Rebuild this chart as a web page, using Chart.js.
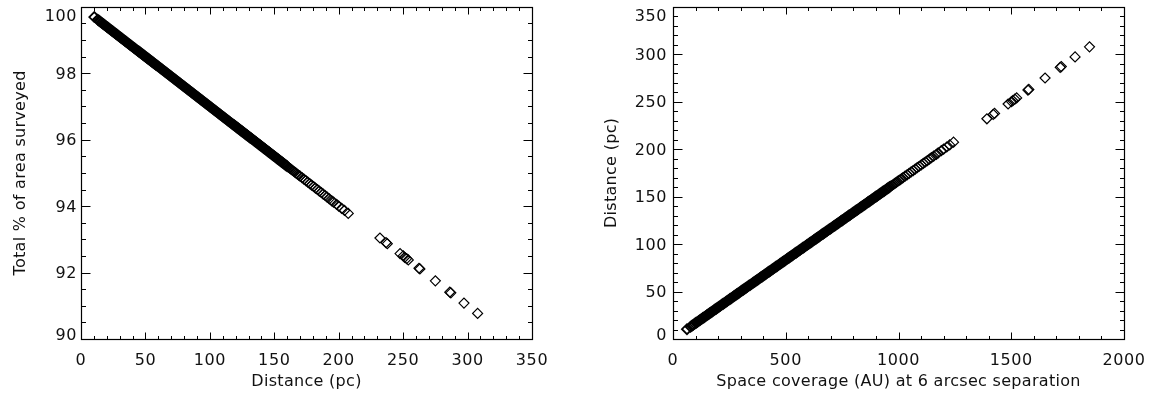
<!DOCTYPE html>
<html lang="en">
<head>
<meta charset="UTF-8">
<title>Survey coverage vs distance</title>
<script src="https://cdn.jsdelivr.net/npm/chart.js"></script>
<style>
  body { margin: 0; background: #fff; width: 1152px; height: 399px; overflow: hidden; position: relative; }
  canvas { position: absolute; top: 0; }
  #left { left: 0; }
  #right { left: 576px; }
</style>
</head>
<body>
<canvas id="left" width="576" height="399"></canvas>
<canvas id="right" width="576" height="399"></canvas>
<script>
// distances (pc) of the stars, dense part read at ~1 pc steps
const nearDist = [10.3,
  13, 14, 15, 16, 17, 18, 19, 20,
  21, 22, 23, 24, 25, 26, 27, 28, 29, 30,
  31, 32, 33, 34, 35, 36, 37, 38, 39, 40,
  41, 42, 43, 44, 45, 46, 47, 48, 49, 50,
  51, 52, 53, 54, 55, 56, 57, 58, 59, 60,
  61, 62, 63, 64, 65, 66, 67, 68, 69, 70,
  71, 72, 73, 74, 75, 76, 77, 78, 79, 80,
  81, 82, 83, 84, 85, 86, 87, 88, 89, 90,
  91, 92, 93, 94, 95, 96, 97, 98, 99, 100,
  101, 102, 103, 104, 105, 106, 107, 108, 109, 110,
  111, 112, 113, 114, 115, 116, 117, 118, 119, 120,
  121, 122, 123, 124, 125, 126, 127, 128, 129, 130,
  131, 132, 133, 134, 135, 136, 137, 138, 139, 140,
  141, 142, 143, 144, 145, 146, 147, 148, 149, 150,
  151, 152, 153, 154, 155, 156, 157, 158, 159, 160];
// total % of area surveyed for those stars
const nearPct = [99.69,
  99.61, 99.58, 99.55, 99.52, 99.49, 99.46, 99.43, 99.40,
  99.37, 99.34, 99.31, 99.28, 99.25, 99.22, 99.19, 99.16, 99.13, 99.10,
  99.07, 99.04, 99.01, 98.98, 98.95, 98.92, 98.89, 98.86, 98.83, 98.80,
  98.77, 98.74, 98.71, 98.68, 98.65, 98.62, 98.59, 98.56, 98.53, 98.50,
  98.47, 98.44, 98.41, 98.38, 98.35, 98.32, 98.29, 98.26, 98.23, 98.20,
  98.17, 98.14, 98.11, 98.08, 98.05, 98.02, 97.99, 97.96, 97.93, 97.90,
  97.87, 97.84, 97.81, 97.78, 97.75, 97.72, 97.69, 97.66, 97.63, 97.60,
  97.57, 97.54, 97.51, 97.48, 97.45, 97.42, 97.39, 97.36, 97.33, 97.30,
  97.27, 97.24, 97.21, 97.18, 97.15, 97.12, 97.09, 97.06, 97.03, 97.00,
  96.97, 96.94, 96.91, 96.88, 96.85, 96.82, 96.79, 96.76, 96.73, 96.70,
  96.67, 96.64, 96.61, 96.58, 96.55, 96.52, 96.49, 96.46, 96.43, 96.40,
  96.37, 96.34, 96.31, 96.28, 96.25, 96.22, 96.19, 96.16, 96.13, 96.10,
  96.07, 96.04, 96.01, 95.98, 95.95, 95.92, 95.89, 95.86, 95.83, 95.80,
  95.77, 95.74, 95.71, 95.68, 95.65, 95.62, 95.59, 95.56, 95.53, 95.50,
  95.47, 95.44, 95.41, 95.38, 95.35, 95.32, 95.29, 95.26, 95.23, 95.20];
// space coverage (AU) at 6 arcsec separation
const nearCov = [62,
  78, 84, 90, 96, 102, 108, 114, 120,
  126, 132, 138, 144, 150, 156, 162, 168, 174, 180,
  186, 192, 198, 204, 210, 216, 222, 228, 234, 240,
  246, 252, 258, 264, 270, 276, 282, 288, 294, 300,
  306, 312, 318, 324, 330, 336, 342, 348, 354, 360,
  366, 372, 378, 384, 390, 396, 402, 408, 414, 420,
  426, 432, 438, 444, 450, 456, 462, 468, 474, 480,
  486, 492, 498, 504, 510, 516, 522, 528, 534, 540,
  546, 552, 558, 564, 570, 576, 582, 588, 594, 600,
  606, 612, 618, 624, 630, 636, 642, 648, 654, 660,
  666, 672, 678, 684, 690, 696, 702, 708, 714, 720,
  726, 732, 738, 744, 750, 756, 762, 768, 774, 780,
  786, 792, 798, 804, 810, 816, 822, 828, 834, 840,
  846, 852, 858, 864, 870, 876, 882, 888, 894, 900,
  906, 912, 918, 924, 930, 936, 942, 948, 954, 960];

// thinning tail of the main group
const midDist = [161, 162, 163, 164, 165, 166, 167, 168, 169, 170,
  171.5, 173, 174.5, 176, 177.5, 179, 180.5, 182, 183.5, 185, 186.5,
  188, 189.5, 191, 192.7, 194.6, 196, 198.4, 200, 202.3, 204.5, 207.4];
const midPct = [95.17, 95.14, 95.11, 95.08, 95.05, 95.02, 94.99, 94.96, 94.93, 94.90,
  94.86, 94.81, 94.77, 94.72, 94.68, 94.63, 94.59, 94.54, 94.50, 94.45, 94.41,
  94.36, 94.32, 94.27, 94.22, 94.16, 94.12, 94.05, 94.00, 93.93, 93.87, 93.78];
const midCov = [966, 972, 978, 984, 990, 996, 1002, 1008, 1014, 1020,
  1029, 1038, 1047, 1056, 1065, 1074, 1083, 1092, 1101, 1110, 1119,
  1128, 1137, 1146, 1156, 1168, 1176, 1190, 1200, 1214, 1227, 1244];

// isolated distant stars
const farDist = [232.0, 236.7, 237.7, 247.6, 250.1, 251.2, 252.7, 254.0,
  262.3, 263.0, 275.0, 286.2, 287.0, 297.2, 307.8];
const farPct = [93.04, 92.90, 92.87, 92.57, 92.50, 92.46, 92.42, 92.38,
  92.13, 92.11, 91.75, 91.41, 91.39, 91.08, 90.77];
const farCov = [1392, 1420, 1426, 1486, 1501, 1507, 1516, 1524,
  1574, 1578, 1650, 1717, 1722, 1783, 1847];

// axis ticks
const leftXTicks = [0, 50, 100, 150, 200, 250, 300, 350];
const leftYTicks = [90, 92, 94, 96, 98, 100];
const rightXTicks = [0, 500, 1000, 1500, 2000];
const rightYTicks = [0, 50, 100, 150, 200, 250, 300, 350];

const FONT = "16px 'DejaVu Sans', sans-serif";
const INK = '#111';

// IDL-style box: ticks inward on all four sides
function boxAxes(cfg) {
  return {
    id: 'boxAxes',
    afterDraw(chart) {
      const ctx = chart.ctx, a = chart.chartArea;
      const xs = chart.scales.x, ys = chart.scales.y;
      const L = Math.round(a.left) + 0.5, R = Math.round(a.right) + 0.5;
      const T = Math.round(a.top) + 0.5, B = Math.round(a.bottom) + 0.5;
      ctx.save();
      ctx.strokeStyle = '#000';
      ctx.lineWidth = 1.2;
      ctx.strokeRect(L, T, R - L, B - T);

      ctx.lineWidth = 1;
      ctx.beginPath();
      for (let v = xs.min; v <= xs.max + 1e-9; v += cfg.xMinor) {
        const major = cfg.xTicks.some(t => Math.abs(t - v) < 1e-6);
        const len = major ? 7 : 3.5;
        const px = Math.round(xs.getPixelForValue(v)) + 0.5;
        ctx.moveTo(px, B); ctx.lineTo(px, B - len);
        ctx.moveTo(px, T); ctx.lineTo(px, T + len);
      }
      for (let v = ys.min; v <= ys.max + 1e-9; v += cfg.yMinor) {
        const major = cfg.yTicks.some(t => Math.abs(t - v) < 1e-6);
        const len = major ? 9 : 4.5;
        const py = Math.round(ys.getPixelForValue(v)) + 0.5;
        ctx.moveTo(L, py); ctx.lineTo(L + len, py);
        ctx.moveTo(R, py); ctx.lineTo(R - len, py);
      }
      ctx.stroke();

      ctx.fillStyle = INK;
      ctx.font = FONT;
      ctx.letterSpacing = '0.6px';
      ctx.textBaseline = 'alphabetic';
      ctx.textAlign = 'center';
      cfg.xTicks.forEach(t => ctx.fillText(String(t), xs.getPixelForValue(t), a.bottom + 26));
      ctx.textAlign = 'right';
      cfg.yTicks.forEach((t, i) => {
        let y = ys.getPixelForValue(t) + 5.5;
        if (i === 0) y -= 4.5;
        if (i === cfg.yTicks.length - 1) y += 9;
        ctx.fillText(String(t), a.left - cfg.yLabelGap, y);
      });

      ctx.letterSpacing = '0.3px';
      ctx.textAlign = 'center';
      ctx.fillText(cfg.xTitle, (a.left + a.right) / 2, a.bottom + 47);
      ctx.save();
      ctx.translate(cfg.yTitleX, (a.top + a.bottom) / 2);
      ctx.rotate(-Math.PI / 2);
      ctx.fillText(cfg.yTitle, 0, 0);
      ctx.restore();
      ctx.restore();
    }
  };
}

function diamonds(xVals, yVals, width) {
  return {
    data: xVals.map((x, i) => ({ x: x, y: yVals[i] })),
    pointStyle: 'rectRot',
    pointRadius: 5,
    pointBorderWidth: width,
    pointBorderColor: '#000',
    pointBackgroundColor: 'rgba(0,0,0,0)',
    showLine: false
  };
}

function makeChart(id, sets, xr, yr, pad, axCfg) {
  return new Chart(document.getElementById(id), {
    type: 'scatter',
    data: { datasets: sets },
    options: {
      responsive: false,
      animation: false,
      devicePixelRatio: 1,
      layout: { padding: pad },
      plugins: { legend: { display: false }, tooltip: { enabled: false } },
      scales: {
        x: { type: 'linear', display: false, min: xr[0], max: xr[1] },
        y: { type: 'linear', display: false, min: yr[0], max: yr[1] }
      }
    },
    plugins: [boxAxes(axCfg)]
  });
}

makeChart('left', [
    diamonds(nearDist, nearPct, 1.8),
    diamonds(midDist, midPct, 1.2),
    diamonds(farDist, farPct, 1.2)
  ], [0, 350], [90, 100],
  { left: 81, right: 44, top: 6, bottom: 60 },
  { xTicks: leftXTicks, yTicks: leftYTicks, xMinor: 10, yMinor: 0.5,
    yLabelGap: 4, xTitle: 'Distance (pc)', yTitle: 'Total % of area surveyed', yTitleX: 25 });

makeChart('right', [
    diamonds(nearCov, nearDist, 1.8),
    diamonds(midCov, midDist, 1.2),
    diamonds(farCov, farDist, 1.2)
  ], [0, 2000], [0, 350],
  { left: 97, right: 28, top: 6, bottom: 60 },
  { xTicks: rightXTicks, yTicks: rightYTicks, xMinor: 100, yMinor: 10,
    yLabelGap: 6, xTitle: 'Space coverage (AU) at 6 arcsec separation', yTitle: 'Distance (pc)', yTitleX: 40 });
</script>
</body>
</html>
